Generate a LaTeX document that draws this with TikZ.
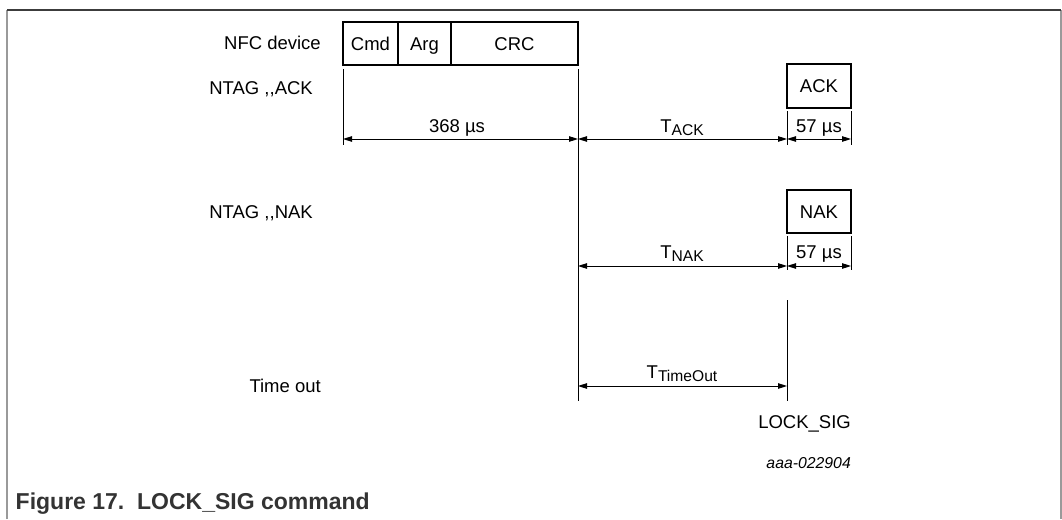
\documentclass[tikz,border=0pt]{standalone}
\usepackage{fontspec}
\setmainfont{Liberation Sans}
\usetikzlibrary{arrows.meta}
\definecolor{framegray}{HTML}{9A9A9A}
\definecolor{topgray}{HTML}{3C3C3C}
\definecolor{capgray}{HTML}{333333}
\tikzset{
  lbl/.style={inner sep=0pt, font=\fontsize{18.5}{22}\selectfont},
  frame box/.style={draw=black, line width=2.6pt, inner sep=0pt, text height=13.3pt, text depth=0pt, font=\fontsize{18.5}{22}\selectfont},
  thin/.style={draw=black, line width=0.9pt},
  dim/.style={draw=black, line width=0.9pt, {Triangle[length=9pt,width=5.5pt]}-{Triangle[length=9pt,width=5.5pt]}},
}
\newcommand{\sub}[1]{\raisebox{-3pt}{\fontsize{15.6}{16}\selectfont #1}}
\begin{document}
\begin{tikzpicture}[x=1pt,y=-1pt]
\useasboundingbox (0,0) rectangle (1062,519);
% frame
\draw[framegray, line width=1.4pt] (7,519) -- (7,10);
\draw[framegray, line width=1.4pt] (1061,519) -- (1061,10);
\draw[topgray, line width=1.4pt] (7,10) -- (1061,10);

% left labels
\node[lbl, anchor=base east] (lnfc) at (321,49.6) {NFC device};
\node[lbl, anchor=base east] (lack) at (313,94.6) {NTAG ,\kern0pt,ACK};
\node[lbl, anchor=base east] (lnak) at (313,218.6) {NTAG ,\kern0pt,NAK};
\node[lbl, anchor=base east] (lto) at (321,392.6) {Time out};

% command frame
\node[frame box, minimum width=55pt, minimum height=43pt] (cmd) at (370.5,43.5) {Cmd};
\node[frame box, minimum width=53pt, minimum height=43pt] (arg) at (424.5,43.5) {Arg};
\node[frame box, minimum width=127pt, minimum height=43pt] (crc) at (514.5,43.5) {CRC};

% responses
\node[frame box, minimum width=64pt, minimum height=44pt] (ack) at (819,86) {ACK};
\node[frame box, minimum width=64pt, minimum height=43pt] (nak) at (819,211.5) {NAK};

% reference coordinates
\coordinate (a0) at (343,69);  \coordinate (a1) at (343,145);
\coordinate (b0) at (578,69);  \coordinate (b1) at (578,401);
\coordinate (c0) at (787,111); \coordinate (c1) at (787,145);
\coordinate (d0) at (851,111); \coordinate (d1) at (851,145);
\coordinate (e0) at (787,236); \coordinate (e1) at (787,270);
\coordinate (f0) at (851,236); \coordinate (f1) at (851,270);
\coordinate (g0) at (787,300); \coordinate (g1) at (787,401);

\draw[thin] (a0) -- (a1);
\draw[thin] (b0) -- (b1);
\draw[thin] (c0) -- (c1);
\draw[thin] (d0) -- (d1);
\draw[thin] (e0) -- (e1);
\draw[thin] (f0) -- (f1);
\draw[thin] (g0) -- (g1);

% dimension arrows row ACK
\coordinate (p1) at (343,139); \coordinate (p2) at (578,139);
\coordinate (p3) at (787,139); \coordinate (p4) at (851,139);
\draw[dim] (p1) -- (p2);
\draw[dim] (p2) -- (p3);
\draw[dim] (p3) -- (p4);
\node[lbl, anchor=base] (t368) at (457,132.6) {368 µs};
\node[lbl, anchor=base] (tack) at (682,132.6) {T\sub{ACK}};
\node[lbl, anchor=base] (t57a) at (819,132.6) {57 µs};

% row NAK
\coordinate (q2) at (578,266); \coordinate (q3) at (787,266); \coordinate (q4) at (851,266);
\draw[dim] (q2) -- (q3);
\draw[dim] (q3) -- (q4);
\node[lbl, anchor=base] (tnak) at (682,258.6) {T\sub{NAK}};
\node[lbl, anchor=base] (t57b) at (819,258.6) {57 µs};

% row timeout
\coordinate (r2) at (578,386); \coordinate (r3) at (787,386);
\draw[dim] (r2) -- (r3);
\node[lbl, anchor=base] (tto) at (682,378.6) {T\sub{TimeOut}};

\node[lbl, anchor=base east] (lock) at (851,428.6) {LOCK\_SIG};
\node[inner sep=0pt, anchor=base east, font=\fontsize{15.8}{18}\selectfont\itshape] (code) at (851,468.6) {aaa-022904};

% caption
\node[inner sep=0pt, anchor=base west, text=capgray, font=\fontsize{23}{26}\selectfont\bfseries] (cap) at (15.5,509.5) {Figure 17.\ \ LOCK\_SIG command};
\end{tikzpicture}
\end{document}
